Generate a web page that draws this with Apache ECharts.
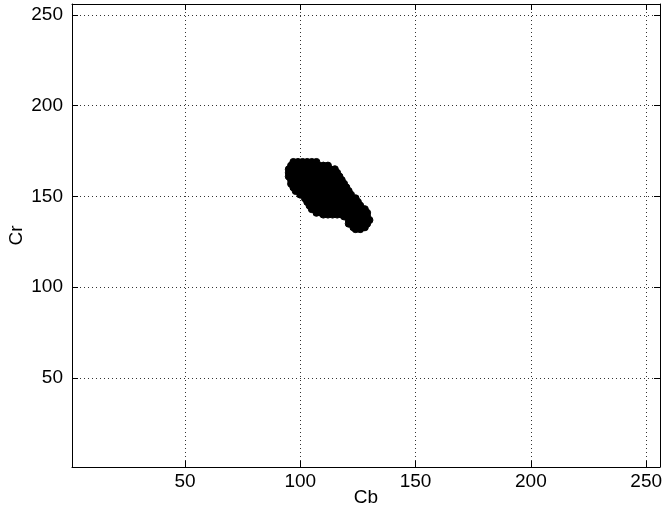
<!DOCTYPE html>
<html>
<head>
<meta charset="utf-8">
<script src="https://cdn.jsdelivr.net/npm/echarts@6/dist/echarts.min.js"></script>
<style>
    html, body {margin: 0; padding: 0; background: #fff;}
    #chart {width: 665px; height: 512px;}
</style>
</head>
<body>
<div id="chart"></div>
<script>
// tick values, both axes
var tickValues = [50, 100, 150, 200, 250];

var cbValues = [
    97, 99, 101, 103, 105, 107,
    96, 98, 100, 102, 104, 106, 108, 110, 112,
    95, 97, 99, 101, 103, 105, 107, 109, 111, 113, 115,
    95, 97, 99, 101, 103, 105, 107, 109, 111, 113, 115, 116,
    95, 97, 99, 101, 103, 105, 107, 109, 111, 113, 115, 117,
    96, 98, 100, 102, 104, 106, 108, 110, 112, 114, 116, 118,
    96, 98, 100, 102, 104, 106, 108, 110, 112, 114, 116, 118, 119,
    97, 99, 101, 103, 105, 107, 109, 111, 113, 115, 117, 119, 120,
    98, 100, 102, 104, 106, 108, 110, 112, 114, 116, 118, 120, 121,
    100, 102, 104, 106, 108, 110, 112, 114, 116, 118, 120, 122,
    102, 104, 106, 108, 110, 112, 114, 116, 118, 120, 122, 124,
    103, 105, 107, 109, 111, 113, 115, 117, 119, 121, 123, 125,
    104, 106, 108, 110, 112, 114, 116, 118, 120, 122, 124, 126,
    105, 107, 109, 111, 113, 115, 117, 119, 121, 123, 125, 127, 128,
    107, 109, 111, 113, 115, 117, 119, 121, 123, 125, 127, 129,
    110, 112, 114, 116, 118,
    119, 121, 123, 125, 127, 129,
    121, 123, 125, 127, 129, 130,
    121, 123, 125, 127, 129,
    123, 125, 127, 128,
    124, 126
];
var crValues = [
    169, 169, 169, 169, 169, 169,
    167, 167, 167, 167, 167, 167, 167, 167, 167,
    165, 165, 165, 165, 165, 165, 165, 165, 165, 165, 165,
    163, 163, 163, 163, 163, 163, 163, 163, 163, 163, 163, 163,
    161, 161, 161, 161, 161, 161, 161, 161, 161, 161, 161, 161,
    159, 159, 159, 159, 159, 159, 159, 159, 159, 159, 159, 159,
    157, 157, 157, 157, 157, 157, 157, 157, 157, 157, 157, 157, 157,
    155, 155, 155, 155, 155, 155, 155, 155, 155, 155, 155, 155, 155,
    153, 153, 153, 153, 153, 153, 153, 153, 153, 153, 153, 153, 153,
    151, 151, 151, 151, 151, 151, 151, 151, 151, 151, 151, 151,
    149, 149, 149, 149, 149, 149, 149, 149, 149, 149, 149, 149,
    147, 147, 147, 147, 147, 147, 147, 147, 147, 147, 147, 147,
    145, 145, 145, 145, 145, 145, 145, 145, 145, 145, 145, 145,
    143, 143, 143, 143, 143, 143, 143, 143, 143, 143, 143, 143, 143,
    141, 141, 141, 141, 141, 141, 141, 141, 141, 141, 141, 141,
    140, 140, 140, 140, 140,
    139, 139, 139, 139, 139, 139,
    137, 137, 137, 137, 137, 137,
    135, 135, 135, 135, 135,
    133, 133, 133, 133,
    132, 132
];

var FONT = 'Liberation Sans';

var points = [];
for (var i = 0; i < cbValues.length; i++) {
    points.push([cbValues[i], crValues[i]]);
}

function makeAxis(position, withLabel, name, nameGap) {
    return {
        type: 'value',
        min: 1,
        max: 256,
        position: position,
        name: withLabel ? name : '',
        nameLocation: 'middle',
        nameGap: nameGap,
        nameMoveOverlap: false,
        nameTextStyle: {fontSize: 19, color: '#000', fontFamily: FONT},
        axisLine: {show: true, onZero: false, lineStyle: {color: '#000', width: 1}},
        axisTick: {show: true, inside: true, length: 6, customValues: tickValues, lineStyle: {color: '#000', width: 1}},
        axisLabel: {show: withLabel, customValues: tickValues, margin: position == 'left' ? 9 : 5, fontSize: 19, color: '#000', fontFamily: FONT},
        splitLine: {show: withLabel, lineStyle: {color: '#333', width: 1, type: [1, 3]}}
    };
}

var chart = echarts.init(document.getElementById('chart'));
chart.setOption({
    animation: false,
    backgroundColor: '#fff',
    grid: {left: 72, right: 5, top: 4, bottom: 45, containLabel: false, outerBoundsMode: 'none'},
    xAxis: [makeAxis('bottom', true, 'Cb', 21), makeAxis('top', false)],
    yAxis: [makeAxis('left', true, 'Cr', 46), makeAxis('right', false)],
    series: [{
        type: 'scatter',
        data: points,
        symbol: 'circle',
        symbolSize: 7,
        itemStyle: {color: '#000', borderColor: '#000', borderWidth: 1, opacity: 1}
    }]
});
</script>
</body>
</html>
